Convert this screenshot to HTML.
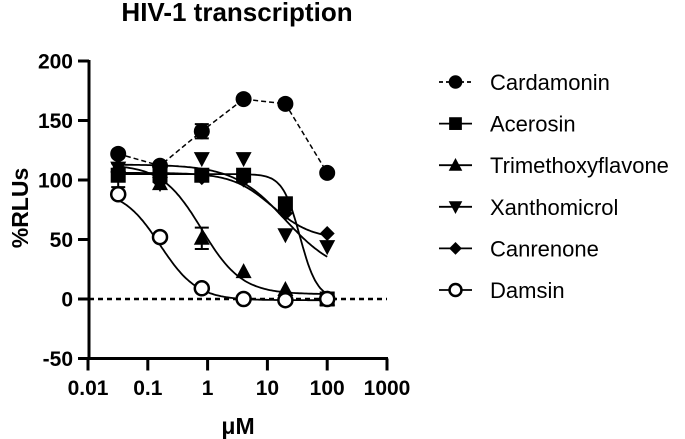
<!DOCTYPE html>
<html><head><meta charset="utf-8"><style>
body{margin:0;background:#fff;}
svg{display:block;font-family:"Liberation Sans",Arial,sans-serif;}
</style></head><body>
<svg id="chart" width="685" height="439" viewBox="0 0 685 439">
<text x="237" y="21" text-anchor="middle" font-size="26" font-weight="bold">HIV-1 transcription</text>
<text transform="translate(22,208) rotate(-90)" text-anchor="middle" font-size="23" font-weight="bold" dominant-baseline="middle">%RLUs</text>
<text x="238" y="434" text-anchor="middle" font-size="23" font-weight="bold">μM</text>
<g id="axes"></g><g id="marks"></g><g id="legend"></g>
</svg>
<script>
const xConc=[0.032,0.16,0.8,4,20,100];
const cardamonin=[122,112,141,168,164,106];
const acerosin=[104,104,104,104,80,0];
const trimethoxy=[112,97,51,23,8,0];
const xanthomicrol=[110,97,118,118,54,44];
const canrenone=[106,98,102,100,72,55];
const damsin=[88,52,9,0,-1,0];
const seriesNames=["Cardamonin","Acerosin","Trimethoxyflavone","Xanthomicrol","Canrenone","Damsin"];
// 4PL fit params: top, bottom, ec50, hill
const fitAcerosin=[105,0,35,3];
const fitTrimethoxy=[113,4,0.8,1.3];
const fitXanthomicrol=[113,20,20,1];
const fitCanrenone=[106,50,12,1.3];
const fitDamsin=[92,-1,0.16,1.4];
const yTicks=[-50,0,50,100,150,200];
const xTicks=[0.01,0.1,1,10,100,1000];
const xTickLabels=["0.01","0.1","1","10","100","1000"];
const errCard=[[0.8,141,6]];
const errTri=[[0.8,51,9],[0.032,108,6]];
const errAce=[[0.8,104,5],[0.032,104,10]];

const NS="http://www.w3.org/2000/svg";
const X=v=>88+(Math.log10(v)+2)*59.8;
const Y=v=>299-v*1.19;
function mk(tag,attrs,parent){const e=document.createElementNS(NS,tag);for(const k in attrs)e.setAttribute(k,attrs[k]);parent.appendChild(e);return e;}
const axes=document.getElementById('axes'),marks=document.getElementById('marks'),legend=document.getElementById('legend');

let a=mk('line',{x1:89,y1:Y(200)-1,x2:89,y2:Y(-50)+1.5,stroke:'#000','stroke-width':3},axes);


a=mk('line',{x1:87.5,y1:Y(-50),x2:X(1000)+1,y2:Y(-50),stroke:'#000','stroke-width':3},axes);


yTicks.forEach(t=>{
  const l=mk('line',{x1:78,y1:Y(t),x2:89,y2:Y(t),stroke:'#000','stroke-width':3},axes);
  
  
  const tx=mk('text',{x:73,y:Y(t)+7.5,'text-anchor':'end','font-size':21,'font-weight':'bold'},axes);
  tx.textContent=t;
  
  
});
xTicks.forEach((t,i)=>{
  const l=mk('line',{x1:X(t),y1:Y(-50),x2:X(t),y2:Y(-50)+12,stroke:'#000','stroke-width':3},axes);
  
  
  const tx=mk('text',{x:X(t),y:395,'text-anchor':'middle','font-size':21,'font-weight':'bold'},axes);
  tx.textContent=xTickLabels[i];
  
  
});
a=mk('line',{x1:89,y1:Y(0),x2:X(1000),y2:Y(0),stroke:'#000','stroke-width':2.5,'stroke-dasharray':'5,4'},axes);



function fitPath(p){
  const [top,bot,ec,h]=p;let d='';
  for(let i=0;i<=120;i++){const lx=Math.log10(0.032)+i*(Math.log10(100)-Math.log10(0.032))/120;const x=Math.pow(10,lx);
    const y=bot+(top-bot)/(1+Math.pow(x/ec,h));d+=(i?'L':'M')+X(x).toFixed(1)+','+Y(y).toFixed(1);}
  return d;
}
function marker(g,type,cx,cy,s){
  s=s||1;let e;
  if(type==='circle')e=mk('circle',{cx,cy,r:8*s,fill:'#000'},g);
  else if(type==='ocircle')e=mk('circle',{cx,cy,r:7*s,fill:'#fff',stroke:'#000','stroke-width':2.5},g);
  else if(type==='square')e=mk('rect',{x:cx-7.5*s,y:cy-7.5*s,width:15*s,height:15*s,fill:'#000'},g);
  else if(type==='tri')e=mk('polygon',{points:`${cx},${cy-8.5*s} ${cx+8*s},${cy+6.5*s} ${cx-8*s},${cy+6.5*s}`,fill:'#000'},g);
  else if(type==='itri')e=mk('polygon',{points:`${cx},${cy+8.5*s} ${cx+8*s},${cy-6.5*s} ${cx-8*s},${cy-6.5*s}`,fill:'#000'},g);
  else e=mk('polygon',{points:`${cx},${cy-7.5*s} ${cx+7.5*s},${cy} ${cx},${cy+7.5*s} ${cx-7.5*s},${cy}`,fill:'#000'},g);
  return e;
}
function errbars(g,arr){arr.forEach(([x,y,e])=>{
  const p=mk('path',{d:`M${X(x)},${Y(y+e)}V${Y(y-e)}M${X(x)-7},${Y(y+e)}h14M${X(x)-7},${Y(y-e)}h14`,stroke:'#000','stroke-width':2,fill:'none'},g);
  
  
});}
const series=[
  {vals:cardamonin,m:'circle',fit:null,err:errCard,name:'cardamonin'},
  {vals:acerosin,m:'square',fit:fitAcerosin,err:errAce,name:'acerosin'},
  {vals:trimethoxy,m:'tri',fit:fitTrimethoxy,err:errTri,name:'trimethoxyflavone'},
  {vals:xanthomicrol,m:'itri',fit:fitXanthomicrol,err:[],name:'xanthomicrol'},
  {vals:canrenone,m:'diamond',fit:fitCanrenone,err:[],name:'canrenone'},
  {vals:damsin,m:'ocircle',fit:fitDamsin,err:[],name:'damsin'}
];
series.forEach(s=>{
  const g=mk('g',{},marks);
  
  
  let p;
  if(s.fit){p=mk('path',{d:fitPath(s.fit),stroke:'#000','stroke-width':1.8,fill:'none'},g);}
  else{p=mk('path',{d:s.vals.map((v,i)=>(i?'L':'M')+X(xConc[i])+','+Y(v)).join(''),stroke:'#000','stroke-width':1.5,fill:'none','stroke-dasharray':'5,3'},g);}
  
  
  errbars(g,s.err);
  s.vals.forEach((v,i)=>{
    const m=marker(g,s.m,X(xConc[i]),Y(v));
    
    
  });
});
seriesNames.forEach((n,i)=>{
  const y=82+i*41.6;const s=series[i];
  const g=mk('g',{},legend);
  
  
  mk('line',{x1:439,y1:y,x2:472,y2:y,stroke:'#000','stroke-width':1.8,'stroke-dasharray':i===0?'4,3':''},g);
  marker(g,s.m,455.5,y,0.85);
  const t=mk('text',{x:490,y:y+8,'font-size':22},g);
  t.textContent=n;
});
</script>
</body></html>
